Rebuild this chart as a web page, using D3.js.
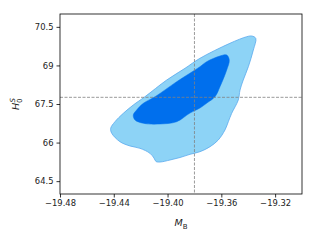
<!DOCTYPE html>
<html>
<head>
<meta charset="utf-8">
<script src="https://cdn.jsdelivr.net/npm/d3@7"></script>
<style>
  body { margin: 0; background: #fff; }
  text { font-family: "DejaVu Sans", sans-serif; }
</style>
</head>
<body>
<div id="chart"></div>
<script>
var w = 316;
var h = 241;
var margin = {left: 60, right: 14, top: 14, bottom: 47};

// tick values and labels
var xTicks = [-19.48, -19.44, -19.40, -19.36, -19.32];
var xTickLabels = ["\u221219.48", "\u221219.44", "\u221219.40", "\u221219.36", "\u221219.32"];
var yTicks = [64.5, 66, 67.5, 69, 70.5];
var yTickLabels = ["64.5", "66", "67.5", "69", "70.5"];

// reference values (dashed lines)
var refM = -19.38;
var refH = 67.76;

// 95% contour [M_B, H0]
var outer = [
  [-19.3374, 70.144], [-19.3344, 70.055], [-19.3362, 69.60], [-19.3399, 68.951],
  [-19.3437, 68.433], [-19.3461, 68.044], [-19.3474, 67.656], [-19.3523, 67.138],
  [-19.3548, 66.812], [-19.3573, 66.489], [-19.3623, 66.10], [-19.3684, 65.839],
  [-19.3759, 65.645], [-19.3833, 65.544], [-19.3907, 65.419], [-19.3982, 65.322],
  [-19.4056, 65.244], [-19.4086, 65.264], [-19.4101, 65.40], [-19.4131, 65.583],
  [-19.4205, 65.777], [-19.4279, 65.867], [-19.4354, 66.034], [-19.4415, 66.361],
  [-19.4423, 66.555], [-19.4391, 66.812], [-19.4329, 67.138], [-19.4255, 67.461],
  [-19.4168, 67.784], [-19.4006, 68.433], [-19.3870, 68.888], [-19.3759, 69.277],
  [-19.3536, 69.861], [-19.3411, 70.117]
];

// 68% contour
var inner = [
  [-19.3560, 69.406], [-19.3541, 69.211], [-19.3560, 68.822], [-19.3610, 68.173],
  [-19.3647, 67.784], [-19.3707, 67.539], [-19.3759, 67.344], [-19.3833, 67.150],
  [-19.3932, 66.812], [-19.4056, 66.722], [-19.4180, 66.749], [-19.4242, 66.878],
  [-19.4255, 67.072], [-19.4230, 67.267], [-19.4180, 67.527], [-19.4093, 67.784],
  [-19.3932, 68.367], [-19.3759, 68.951], [-19.3709, 69.145], [-19.3610, 69.367]
];

var svg = d3.select("#chart")
    .append("svg")
    .attr("width", w)
    .attr("height", h);

var xScale = d3.scaleLinear()
    .domain([-19.48, -19.30])
    .range([margin.left, w - margin.right]);

var yScale = d3.scaleLinear()
    .domain([64.0, 71.0])
    .range([h - margin.bottom, margin.top]);

var line = d3.line()
    .x(function(d) { return xScale(d[0]); })
    .y(function(d) { return yScale(d[1]); })
    .curve(d3.curveCatmullRomClosed.alpha(0.5));

svg.append("path")
    .attr("d", line(outer))
    .attr("fill", "#8dd3f6")
    .attr("stroke", "#5aaaee")
    .attr("stroke-width", 0.8);

svg.append("path")
    .attr("d", line(inner))
    .attr("fill", "#006fed")
    .attr("stroke", "#006fed")
    .attr("stroke-width", 0.5);

// dashed reference lines
svg.append("line")
    .attr("x1", xScale(refM)).attr("x2", xScale(refM))
    .attr("y1", margin.top).attr("y2", h - margin.bottom)
    .attr("stroke", "#808080").attr("stroke-width", 0.8)
    .attr("stroke-dasharray", "3,1.5");

svg.append("line")
    .attr("x1", margin.left).attr("x2", w - margin.right)
    .attr("y1", yScale(refH)).attr("y2", yScale(refH))
    .attr("stroke", "#808080").attr("stroke-width", 0.8)
    .attr("stroke-dasharray", "3,1.5");

// axes
var xAxis = d3.axisBottom(xScale)
    .tickValues(xTicks)
    .tickSize(3.5)
    .tickPadding(3)
    .tickFormat(function(d, i) { return xTickLabels[i]; });

var yAxis = d3.axisLeft(yScale)
    .tickValues(yTicks)
    .tickSize(3.5)
    .tickPadding(3)
    .tickFormat(function(d, i) { return yTickLabels[i]; });

var gx = svg.append("g")
    .attr("transform", "translate(0," + (h - margin.bottom) + ")")
    .call(xAxis);
var gy = svg.append("g")
    .attr("transform", "translate(" + margin.left + ",0)")
    .call(yAxis);

[gx, gy].forEach(function(g) {
    g.select(".domain").remove();
    g.selectAll("line").attr("stroke", "#000").attr("stroke-width", 0.8);
    g.selectAll("text")
        .attr("fill", "#222")
        .style("font-size", "8.4px")
        .style("font-family", "'DejaVu Sans', sans-serif");
});

// frame
svg.append("rect")
    .attr("x", margin.left)
    .attr("y", margin.top)
    .attr("width", w - margin.left - margin.right)
    .attr("height", h - margin.top - margin.bottom)
    .attr("fill", "none")
    .attr("stroke", "#000")
    .attr("stroke-width", 0.8);

// axis labels
var xl = svg.append("text")
    .attr("x", (margin.left + w - margin.right) / 2)
    .attr("y", 226)
    .attr("text-anchor", "middle")
    .style("font-size", "9.5px")
    .attr("fill", "#222");
xl.append("tspan").attr("font-style", "italic").text("M");
xl.append("tspan").attr("dy", 2.5).style("font-size", "7px").text("B");

var yl = svg.append("text")
    .attr("transform", "translate(19," + ((margin.top + h - margin.bottom) / 2) + ") rotate(-90)")
    .attr("text-anchor", "middle")
    .style("font-size", "9.5px")
    .attr("fill", "#222");
yl.append("tspan").attr("font-style", "italic").text("H");
yl.append("tspan").attr("dy", 2.5).style("font-size", "7px").text("0");
yl.append("tspan").attr("dx", -4).attr("dy", -7).style("font-size", "7px").attr("font-style", "italic").text("S");
</script>
</body>
</html>
